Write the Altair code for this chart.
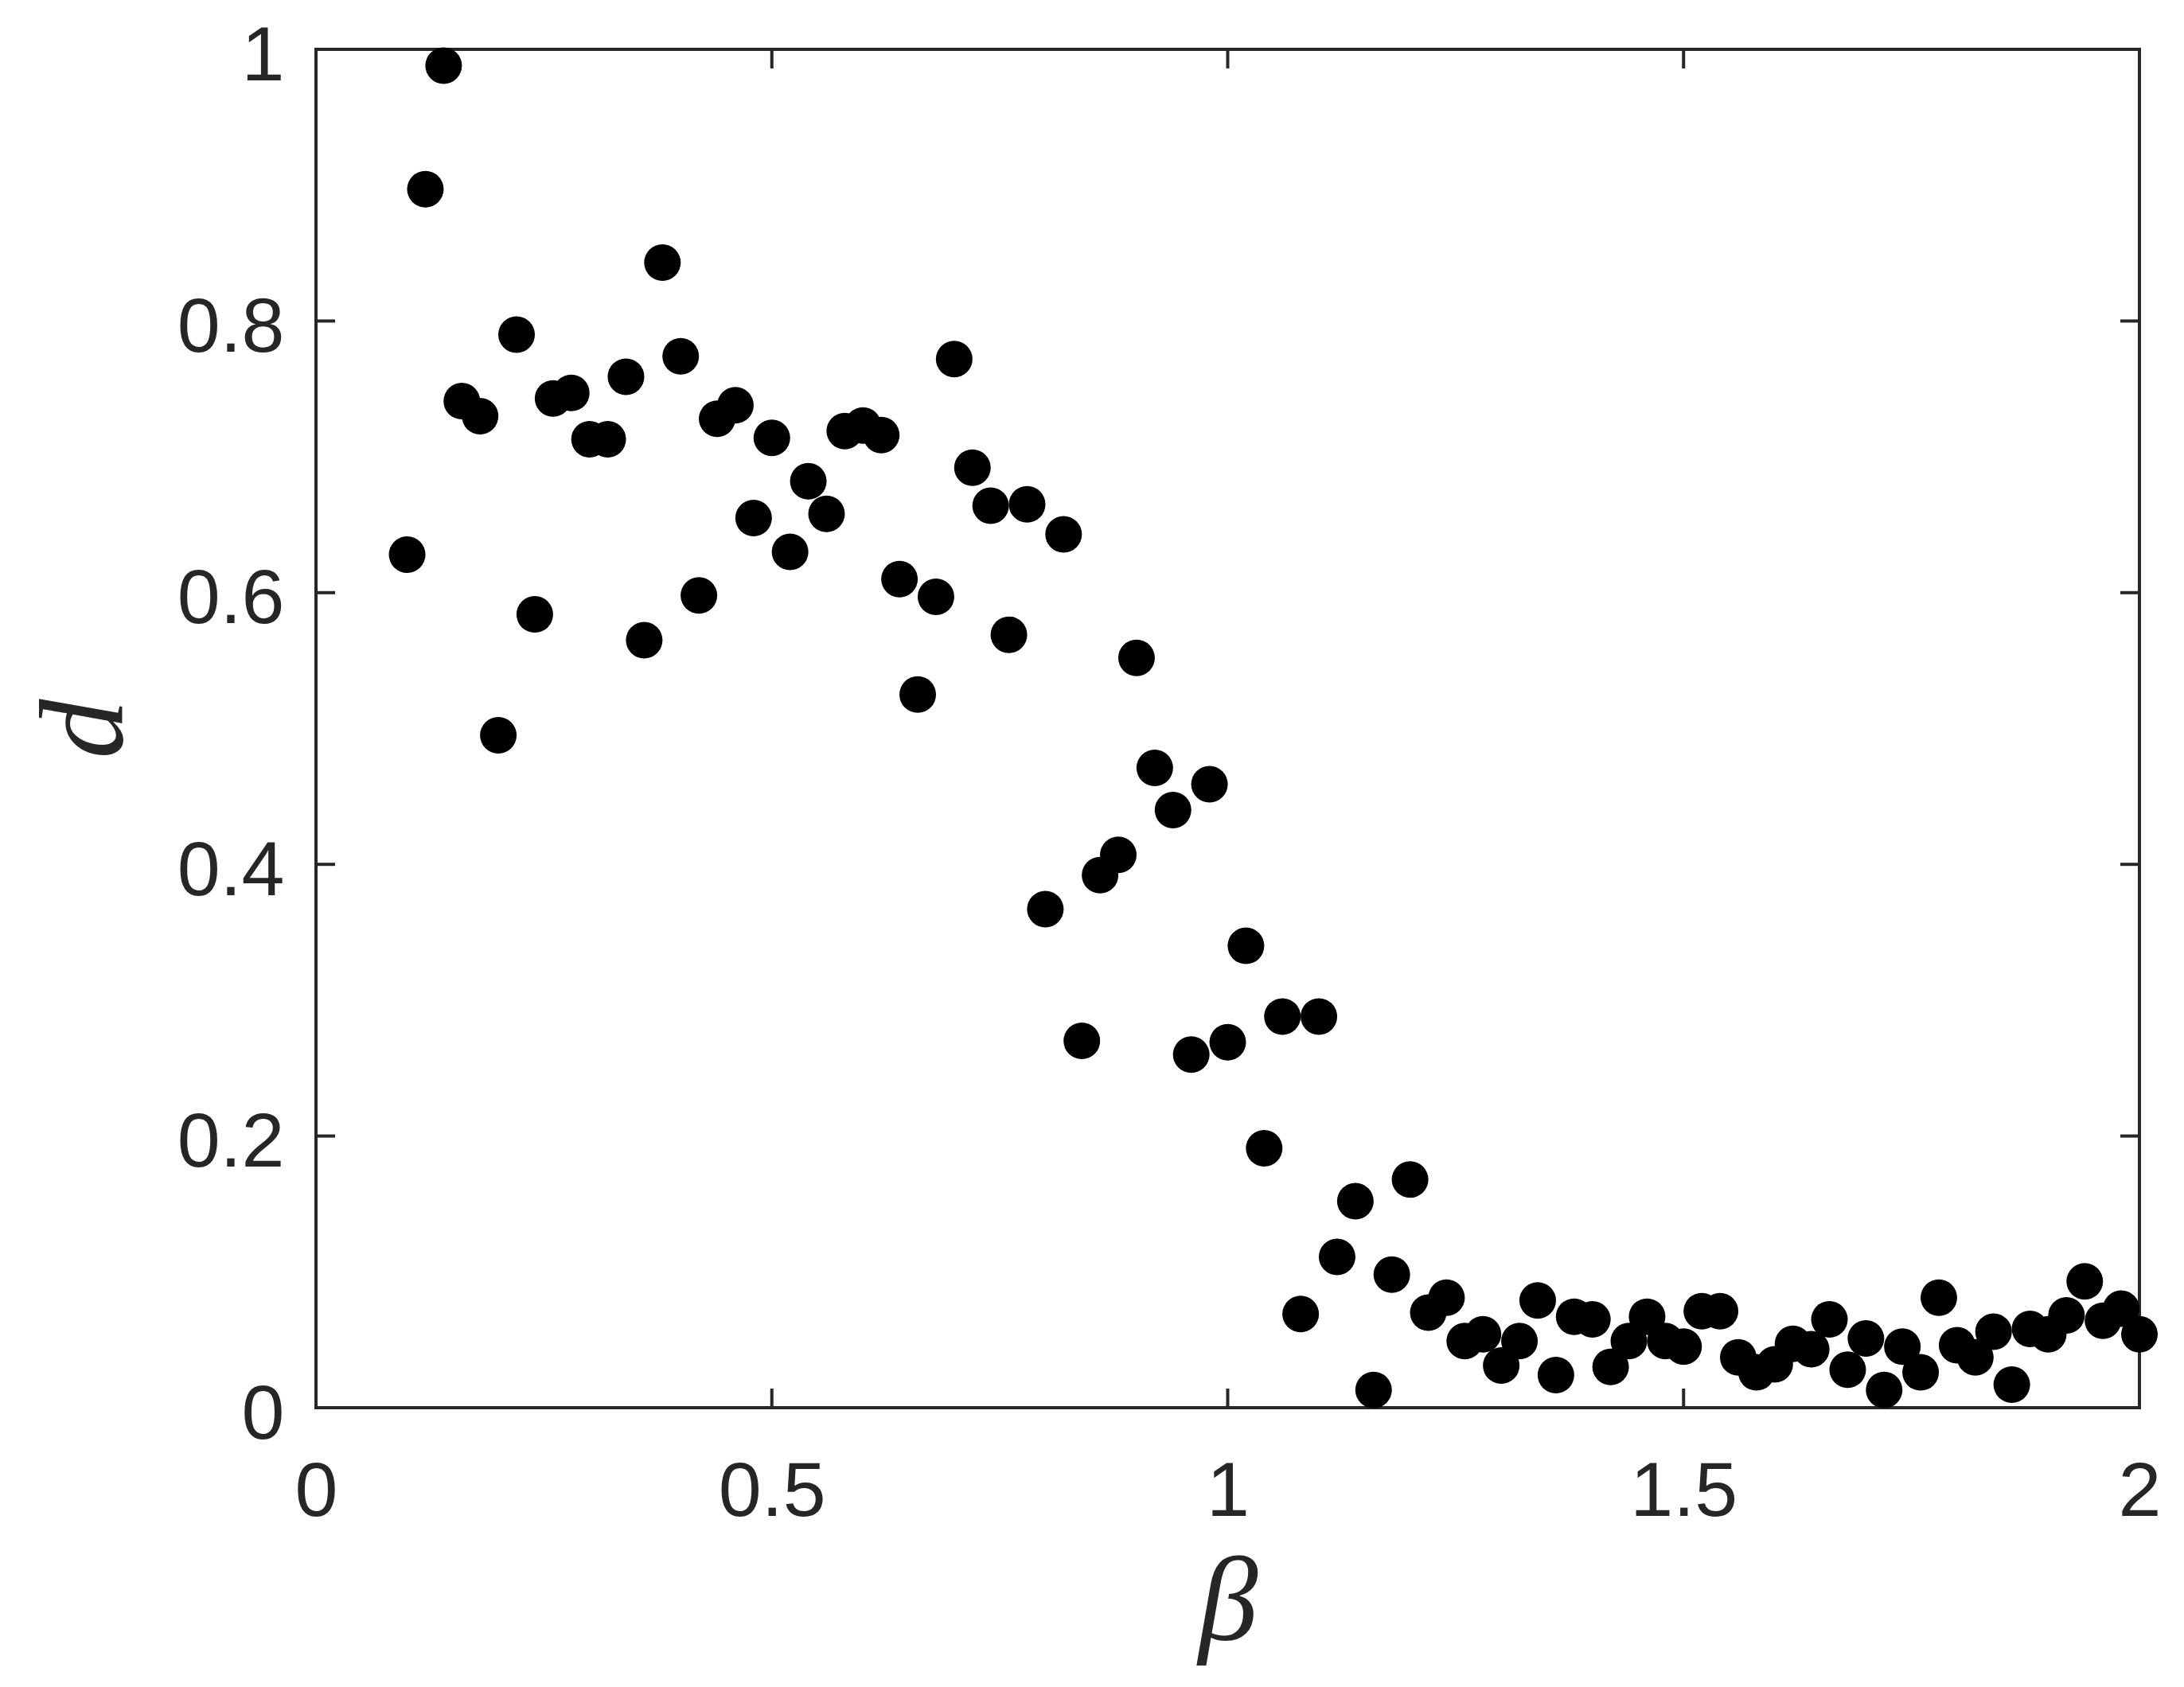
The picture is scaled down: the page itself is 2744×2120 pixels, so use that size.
import altair as alt
import pandas as pd

beta = [round(0.10 + 0.02 * i, 2) for i in range(96)]
d_vals = [
    0.628, 0.897, 0.988, 0.741, 0.730, 0.495, 0.790, 0.584, 0.743, 0.747,
    0.713, 0.713, 0.759, 0.565, 0.843, 0.774, 0.598, 0.728, 0.738, 0.655,
    0.714, 0.630, 0.682, 0.658, 0.719, 0.723, 0.716, 0.610, 0.525, 0.597,
    0.772, 0.692, 0.664, 0.569, 0.665, 0.367, 0.643, 0.270, 0.392, 0.407,
    0.552, 0.471, 0.440, 0.260, 0.459, 0.269, 0.340, 0.191, 0.288, 0.069,
    0.288, 0.111, 0.152, 0.013, 0.098, 0.168, 0.070, 0.081, 0.049, 0.054,
    0.031, 0.049, 0.079, 0.024, 0.067, 0.065, 0.030, 0.049, 0.067, 0.049,
    0.045, 0.071, 0.071, 0.037, 0.026, 0.032, 0.047, 0.043, 0.065, 0.028,
    0.051, 0.013, 0.045, 0.026, 0.081, 0.046, 0.037, 0.056, 0.017, 0.058,
    0.054, 0.068, 0.093, 0.064, 0.073, 0.054,
]
x_ticks = [0, 0.5, 1, 1.5, 2]
y_ticks = [0, 0.2, 0.4, 0.6, 0.8, 1]

W, H = 2291, 1707
TL = 24
AX = "#262626"

df = pd.DataFrame({"beta": beta, "d": d_vals})
xt = pd.DataFrame({"t": x_ticks})
yt = pd.DataFrame({"t": y_ticks})

xscale = alt.Scale(domain=[0, 2], nice=False, zero=False)
yscale = alt.Scale(domain=[0, 1], nice=False, zero=False)

points = alt.Chart(df).mark_circle(size=2116, color="black", opacity=1).encode(
    x=alt.X("beta:Q", scale=xscale,
            axis=alt.Axis(values=x_ticks, format="~g", grid=False, domain=False, ticks=False,
                          labelFont="Liberation Sans", labelFontSize=97, labelColor=AX,
                          labelPadding=58, labelFlush=False, labelOverlap=False,
                          title="β", titleFont="Liberation Serif", titleFontStyle="italic",
                          titleFontWeight="normal", titleFontSize=150, titleColor=AX,
                          titleX=W / 2, titleY=291, titleBaseline="alphabetic", titleAlign="center")),
    y=alt.Y("d:Q", scale=yscale,
            axis=alt.Axis(values=y_ticks, format="~g", grid=False, domain=False, ticks=False,
                          labelFont="Liberation Sans", labelFontSize=97, labelColor=AX,
                          labelPadding=40, labelFlush=False, labelOverlap=False,
                          labelBaseline="alphabetic", labelOffset=38,
                          title="d", titleFont="Liberation Serif", titleFontStyle="italic",
                          titleFontWeight="normal", titleFontSize=150, titleColor=AX,
                          titleAngle=270, titleX=-245, titleY=H / 2,
                          titleBaseline="alphabetic", titleAlign="center")),
)

bottom_ticks = alt.Chart(xt).mark_rule(color=AX, strokeWidth=4).encode(
    x=alt.X("t:Q", scale=xscale), y=alt.value(H), y2=alt.value(H - TL))
top_ticks = alt.Chart(xt).mark_rule(color=AX, strokeWidth=4).encode(
    x=alt.X("t:Q", scale=xscale), y=alt.value(0), y2=alt.value(TL))
left_ticks = alt.Chart(yt).mark_rule(color=AX, strokeWidth=4).encode(
    y=alt.Y("t:Q", scale=yscale), x=alt.value(0), x2=alt.value(TL))
right_ticks = alt.Chart(yt).mark_rule(color=AX, strokeWidth=4).encode(
    y=alt.Y("t:Q", scale=yscale), x=alt.value(W), x2=alt.value(W - TL))

chart = alt.layer(points, bottom_ticks, top_ticks, left_ticks, right_ticks).properties(
    width=W, height=H,
    background="white",
    autosize=alt.AutoSizeParams(type="none"),
    padding={"left": 389, "top": 54, "right": 40, "bottom": 340},
).configure_view(stroke=AX, strokeWidth=4)

chart.save("out.html", embed_options={"renderer": "svg", "actions": False})
